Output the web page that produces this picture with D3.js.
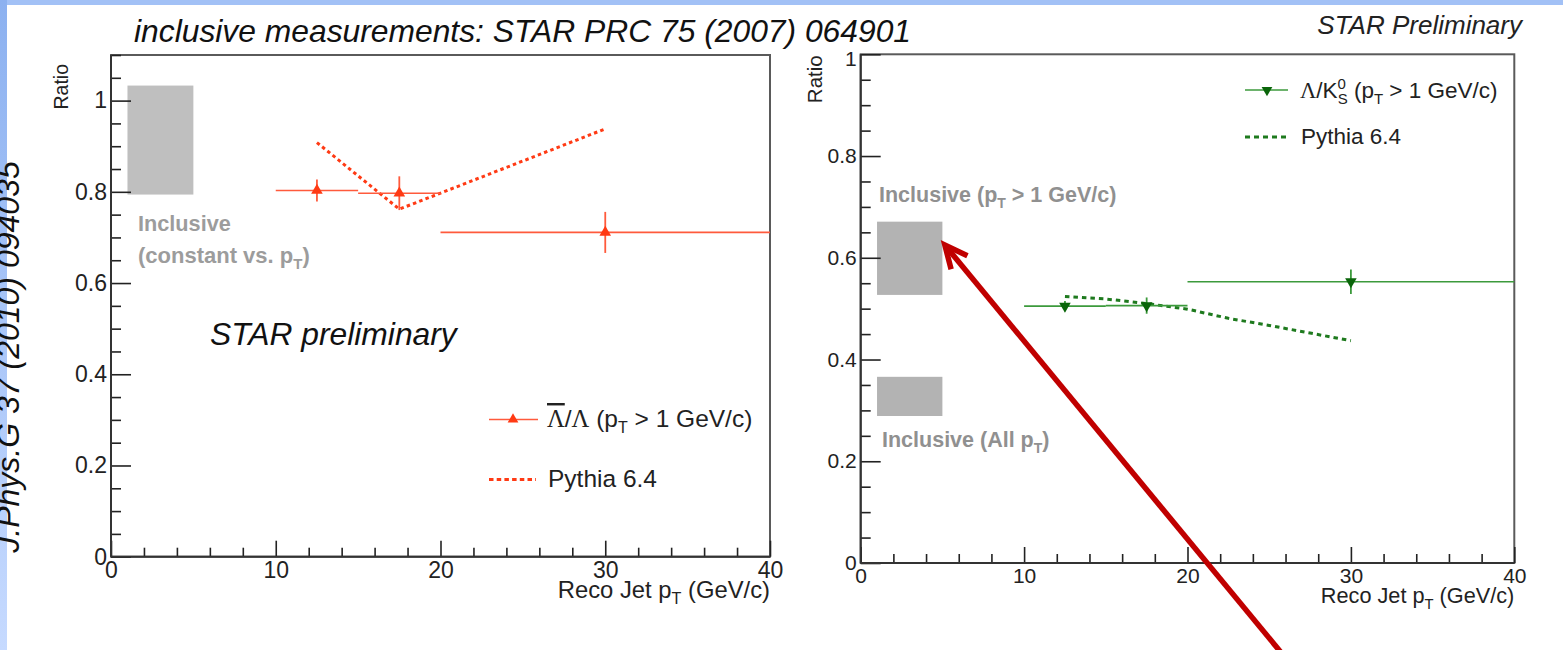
<!DOCTYPE html>
<html><head><meta charset="utf-8">
<script src="https://cdn.jsdelivr.net/npm/d3@7"></script>
<style>
body{margin:0;background:#fff;}
svg{display:block;font-family:"Liberation Sans",Arial,Helvetica,sans-serif;}
</style>
</head><body>
<svg id="c" width="1563" height="650"></svg>
<script>
// ---------------- DATA ----------------
const binLo = [10, 15, 20];
const binHi = [15, 20, 40];
const binCenter = [12.5, 17.5, 30];
// anti-Lambda / Lambda (pT > 1 GeV/c)
const lbarLambdaRatio = [0.803, 0.797, 0.711];
const lbarLambdaErr = [0.024, 0.037, 0.045];
const pythiaLbarPt = [12.5, 17.5, 30];
const pythiaLbarRatio = [0.908, 0.762, 0.938];
// Lambda / K0S (pT > 1 GeV/c)
const lambdaK0Ratio = [0.505, 0.506, 0.553];
const lambdaK0Err = [0.010, 0.016, 0.024];
const pythiaLK0Pt = [12.5, 15, 17.5, 20, 22.5, 25, 27.5, 30];
const pythiaLK0Ratio = [0.524, 0.519, 0.510, 0.499, 0.481, 0.467, 0.452, 0.437];
// inclusive bands (x range 1..5)
const bandPt = [1, 5];
const inclLbarBand = [0.794, 1.033];
const inclLK0HighPt = [0.527, 0.671];
const inclLK0AllPt = [0.289, 0.366];
// axes
const xMajorTicks = [0, 10, 20, 30, 40];
const yMajorTicks = [0, 0.2, 0.4, 0.6, 0.8, 1.0];

// ---------------- DRAW ----------------
const svg = d3.select('#c');
svg.append('rect').attr('width', 1563).attr('height', 650).attr('fill', '#fff');
const defs = svg.append('defs');
const grad = defs.append('linearGradient').attr('id', 'lb').attr('x1', 0).attr('y1', 0).attr('x2', 0).attr('y2', 1);
grad.append('stop').attr('offset', 0).attr('stop-color', '#8cb1f0');
grad.append('stop').attr('offset', 1).attr('stop-color', '#c6daff');
svg.append('rect').attr('x', 0).attr('y', 0).attr('width', 1563).attr('height', 5).attr('fill', '#a2c1f6');
svg.append('rect').attr('x', 0).attr('y', 0).attr('width', 7).attr('height', 650).attr('fill', 'url(#lb)');

svg.append('text').attr('transform', 'translate(19,357) rotate(-90)')
  .attr('text-anchor', 'middle').attr('font-size', 32).attr('font-style', 'italic').attr('fill', '#111')
  .text('J.Phys.G 37 (2010) 094035');

svg.append('text').attr('x', 134).attr('y', 42).attr('font-size', 31.8).attr('font-style', 'italic').attr('fill', '#111')
  .text('inclusive measurements: STAR PRC 75 (2007) 064901');
svg.append('text').attr('x', 1522).attr('y', 34).attr('text-anchor', 'end').attr('font-size', 26).attr('font-style', 'italic').attr('fill', '#222')
  .text('STAR Preliminary');

const fmtY = d => d === 0 ? '0' : d3.format('.1f')(d).replace(/\.0$/, '');

function subText(sel, parts, small) {
  let shift = 0;
  parts.forEach(([t, kind]) => {
    const ts = sel.append('tspan').text(t);
    const target = kind === 'sub' ? 6 : kind === 'sup' ? -9 : 0;
    ts.attr('dy', target - shift);
    shift = target;
    if (kind !== 'n') ts.attr('font-size', small);
  });
}

function drawPanel(o) {
  const g = svg.append('g');
  const x = d3.scaleLinear().domain([0, 40]).range([o.left, o.right]);
  const y = d3.scaleLinear().domain([0, o.ymax]).range([o.bottom, o.top]);

  o.bands.forEach(b => {
    g.append('rect').attr('x', x(bandPt[0])).attr('width', x(bandPt[1]) - x(bandPt[0]))
      .attr('y', y(b[1])).attr('height', y(b[0]) - y(b[1])).attr('fill', o.bandColor);
  });

  g.append('rect').attr('x', o.left).attr('y', o.top).attr('width', o.right - o.left)
    .attr('height', o.bottom - o.top).attr('fill', 'none').attr('stroke', '#5a5a5a').attr('stroke-width', 2);

  const yMinor = d3.range(0, o.ymax + 1e-6, 0.05).filter(v => Math.abs(v / 0.2 - Math.round(v / 0.2)) > 1e-6);
  const xMinor = d3.range(0, 40.01, 2).filter(v => v % 10 !== 0);

  const ya = g.append('g').attr('transform', `translate(${o.left},0)`)
    .call(d3.axisLeft(y).tickValues(yMajorTicks.filter(v => v <= o.ymax)).tickSize(-20).tickPadding(4).tickFormat(fmtY));
  ya.select('.domain').remove();
  ya.attr('font-size', o.tickFont).attr('font-family', null).attr('color', '#222');
  ya.selectAll('line').attr('stroke-width', 1.6);
  if (o.topLabelShift) ya.selectAll('.tick text').filter(d => d === 1).attr('dy', '0.52em');

  const ym = g.append('g').attr('transform', `translate(${o.left},0)`)
    .call(d3.axisLeft(y).tickValues(yMinor).tickSize(-10).tickFormat(''));
  ym.select('.domain').remove();
  ym.attr('color', '#222').selectAll('line').attr('stroke-width', 1.6);

  const xa = g.append('g').attr('transform', `translate(0,${o.bottom})`)
    .call(d3.axisBottom(x).tickValues(xMajorTicks).tickSize(-16).tickPadding(6).tickFormat(d3.format('d')));
  xa.select('.domain').remove();
  xa.attr('font-size', o.tickFont).attr('font-family', null).attr('color', '#222');
  xa.selectAll('line').attr('stroke-width', 1.6);
  xa.selectAll('.tick text').attr('y', 5).attr('dy', '0.72em');

  const xm = g.append('g').attr('transform', `translate(0,${o.bottom})`)
    .call(d3.axisBottom(x).tickValues(xMinor).tickSize(-9).tickFormat(''));
  xm.select('.domain').remove();
  xm.attr('color', '#222').selectAll('line').attr('stroke-width', 1.6);

  g.append('line').attr('x1', o.left).attr('x2', o.left).attr('y1', o.top).attr('y2', o.bottom).attr('stroke', '#333').attr('stroke-width', 2);
  g.append('line').attr('x1', o.left).attr('x2', o.right).attr('y1', o.bottom).attr('y2', o.bottom).attr('stroke', '#333').attr('stroke-width', 2);

  g.append('text').attr('transform', `translate(${o.ratioX},${o.top + o.ratioDy}) rotate(-90)`)
    .attr('text-anchor', 'end').attr('font-size', o.ratioFont).attr('fill', '#222').text('Ratio');
  const xt = g.append('text').attr('x', o.right).attr('y', o.xTitleY).attr('text-anchor', 'end')
    .attr('font-size', o.titleFont).attr('fill', '#222');
  subText(xt, [['Reco Jet p', 'n'], ['T', 'sub'], [' (GeV/c)', 'n']], o.titleFont * 0.68);

  const line = d3.line().x(d => x(d[0])).y(d => y(d[1]));
  g.append('path').datum(o.pythiaPt.map((p, i) => [p, o.pythiaVal[i]]))
    .attr('d', line).attr('fill', 'none').attr('stroke', o.pyColor).attr('stroke-width', 3)
    .attr('stroke-dasharray', o.dash);

  const pts = binCenter.map((c, i) => ({ c, lo: binLo[i], hi: binHi[i], v: o.vals[i], e: o.errs[i] }));
  const dg = g.append('g');
  dg.selectAll('.h').data(pts).join('line').attr('x1', d => x(d.lo)).attr('x2', d => x(d.hi))
    .attr('y1', d => y(d.v)).attr('y2', d => y(d.v)).attr('stroke', o.lineColor).attr('stroke-width', 1.6);
  dg.selectAll('.v').data(pts).join('line').attr('x1', d => x(d.c)).attr('x2', d => x(d.c))
    .attr('y1', d => y(d.v - d.e)).attr('y2', d => y(d.v + d.e)).attr('stroke', o.lineColor).attr('stroke-width', 1.8);
  const sym = d3.symbol(d3.symbolTriangle, 58);
  dg.selectAll('.m').data(pts).join('path').attr('d', sym)
    .attr('transform', d => `translate(${x(d.c)},${y(d.v)}) rotate(${o.down ? 180 : 0})`)
    .attr('fill', o.markColor);

  return { g, x, y };
}

// ---- left panel ----
const L = drawPanel({
  left: 111, right: 770, top: 55, bottom: 556.7, ymax: 1.1,
  tickFont: 23, ratioFont: 19.5, titleFont: 23.8, ratioX: 68, ratioDy: 9, xTitleY: 598,
  bands: [inclLbarBand], bandColor: '#bfbfbf',
  pythiaPt: pythiaLbarPt, pythiaVal: pythiaLbarRatio, pyColor: '#ff3a14', dash: '3.5,3.2',
  vals: lbarLambdaRatio, errs: lbarLambdaErr, lineColor: '#ff5a3c', markColor: '#ff3a14', down: false
});
L.g.append('text').attr('x', 138).attr('y', 231).attr('font-size', 21.7).attr('font-weight', 'bold').attr('fill', '#9c9c9c').text('Inclusive');
const lc = L.g.append('text').attr('x', 138).attr('y', 263).attr('font-size', 22).attr('font-weight', 'bold').attr('fill', '#9c9c9c');
subText(lc, [['(constant vs. p', 'n'], ['T', 'sub'], [')', 'n']], 15);
L.g.append('text').attr('x', 210).attr('y', 345).attr('font-size', 31.8).attr('font-style', 'italic').attr('fill', '#111').text('STAR preliminary');
// legend left
L.g.append('line').attr('x1', 489).attr('x2', 538).attr('y1', 419.5).attr('y2', 419.5).attr('stroke', '#ff5a3c').attr('stroke-width', 1.6);
L.g.append('path').attr('d', d3.symbol(d3.symbolTriangle, 50)).attr('transform', 'translate(513,419.5)').attr('fill', '#ff3a14');
const lt = L.g.append('text').attr('x', 547).attr('y', 427).attr('font-size', 24.5).attr('fill', '#222');
lt.append('tspan').attr('font-family', '"Liberation Serif","DejaVu Serif",serif').style('text-decoration', 'overline').text('Λ');
lt.append('tspan').text('/');
lt.append('tspan').attr('font-family', '"Liberation Serif","DejaVu Serif",serif').text('Λ');
subText(lt, [[' (p', 'n'], ['T', 'sub'], [' > 1 GeV/c)', 'n']], 16);
L.g.append('line').attr('x1', 489).attr('x2', 536).attr('y1', 479.5).attr('y2', 479.5).attr('stroke', '#ff3a14').attr('stroke-width', 3).attr('stroke-dasharray', '4.5,3.2');
L.g.append('text').attr('x', 548).attr('y', 487).attr('font-size', 24.5).attr('fill', '#222').text('Pythia 6.4');

// ---- right panel ----
const R = drawPanel({
  left: 860.7, right: 1514.3, top: 54.3, bottom: 563, ymax: 1.0,
  tickFont: 21, ratioFont: 20.5, titleFont: 21.7, ratioX: 822, ratioDy: 1, xTitleY: 603, topLabelShift: true,
  bands: [inclLK0HighPt, inclLK0AllPt], bandColor: '#b3b3b3',
  pythiaPt: pythiaLK0Pt, pythiaVal: pythiaLK0Ratio, pyColor: '#1e7a1e', dash: '4.5,4',
  vals: lambdaK0Ratio, errs: lambdaK0Err, lineColor: '#3c9a3c', markColor: '#0a650a', down: true
});
const ri = R.g.append('text').attr('x', 879).attr('y', 202).attr('font-size', 21.5).attr('font-weight', 'bold').attr('fill', '#909090');
subText(ri, [['Inclusive (p', 'n'], ['T', 'sub'], [' > 1 GeV/c)', 'n']], 14);
const ra = R.g.append('text').attr('x', 882).attr('y', 447).attr('font-size', 21.5).attr('font-weight', 'bold').attr('fill', '#909090');
subText(ra, [['Inclusive (All p', 'n'], ['T', 'sub'], [')', 'n']], 14);
// legend right
R.g.append('line').attr('x1', 1245).attr('x2', 1288).attr('y1', 90).attr('y2', 90).attr('stroke', '#3c9a3c').attr('stroke-width', 1.6);
R.g.append('path').attr('d', d3.symbol(d3.symbolTriangle, 50)).attr('transform', 'translate(1267,90) rotate(180)').attr('fill', '#0a650a');
const rt = R.g.append('text').attr('x', 1300).attr('y', 98).attr('font-size', 22.5).attr('fill', '#222');
rt.append('tspan').attr('font-family', '"Liberation Serif","DejaVu Serif",serif').text('Λ');
rt.append('tspan').text('/K');
rt.append('tspan').attr('font-size', 15).attr('dy', -9).text('0');
rt.append('tspan').attr('font-size', 15).attr('dx', -8.3).attr('dy', 15).text('S');
rt.append('tspan').attr('dy', -6).text(' (p');
rt.append('tspan').attr('font-size', 15).attr('dy', 6).text('T');
rt.append('tspan').attr('dy', -6).text(' > 1 GeV/c)');
R.g.append('line').attr('x1', 1245).attr('x2', 1289).attr('y1', 137).attr('y2', 137).attr('stroke', '#1e7a1e').attr('stroke-width', 3).attr('stroke-dasharray', '5,4');
R.g.append('text').attr('x', 1301).attr('y', 144).attr('font-size', 22.5).attr('fill', '#222').text('Pythia 6.4');

// ---- annotation arrow (right-panel data coordinates) ----
const arrowTail = [25.7, -0.175], arrowTip = [5.15, 0.625];
const tx = R.x(arrowTip[0]), ty = R.y(arrowTip[1]);
const sx = R.x(arrowTail[0]), sy = R.y(arrowTail[1]);
const ang = Math.atan2(sy - ty, sx - tx);
const aLen = 25, aSpread = 25 * Math.PI / 180;
const ag = svg.append('g').attr('stroke', '#c00000').attr('stroke-width', 5.5).attr('fill', 'none').attr('stroke-linecap', 'butt');
ag.append('line').attr('x1', sx).attr('y1', sy).attr('x2', tx + 2 * Math.cos(ang)).attr('y2', ty + 2 * Math.sin(ang));
ag.append('path').attr('stroke-linejoin', 'miter')
  .attr('d', `M${tx + aLen * Math.cos(ang - aSpread)},${ty + aLen * Math.sin(ang - aSpread)} L${tx},${ty} L${tx + aLen * Math.cos(ang + aSpread)},${ty + aLen * Math.sin(ang + aSpread)}`);
</script>
</body></html>
